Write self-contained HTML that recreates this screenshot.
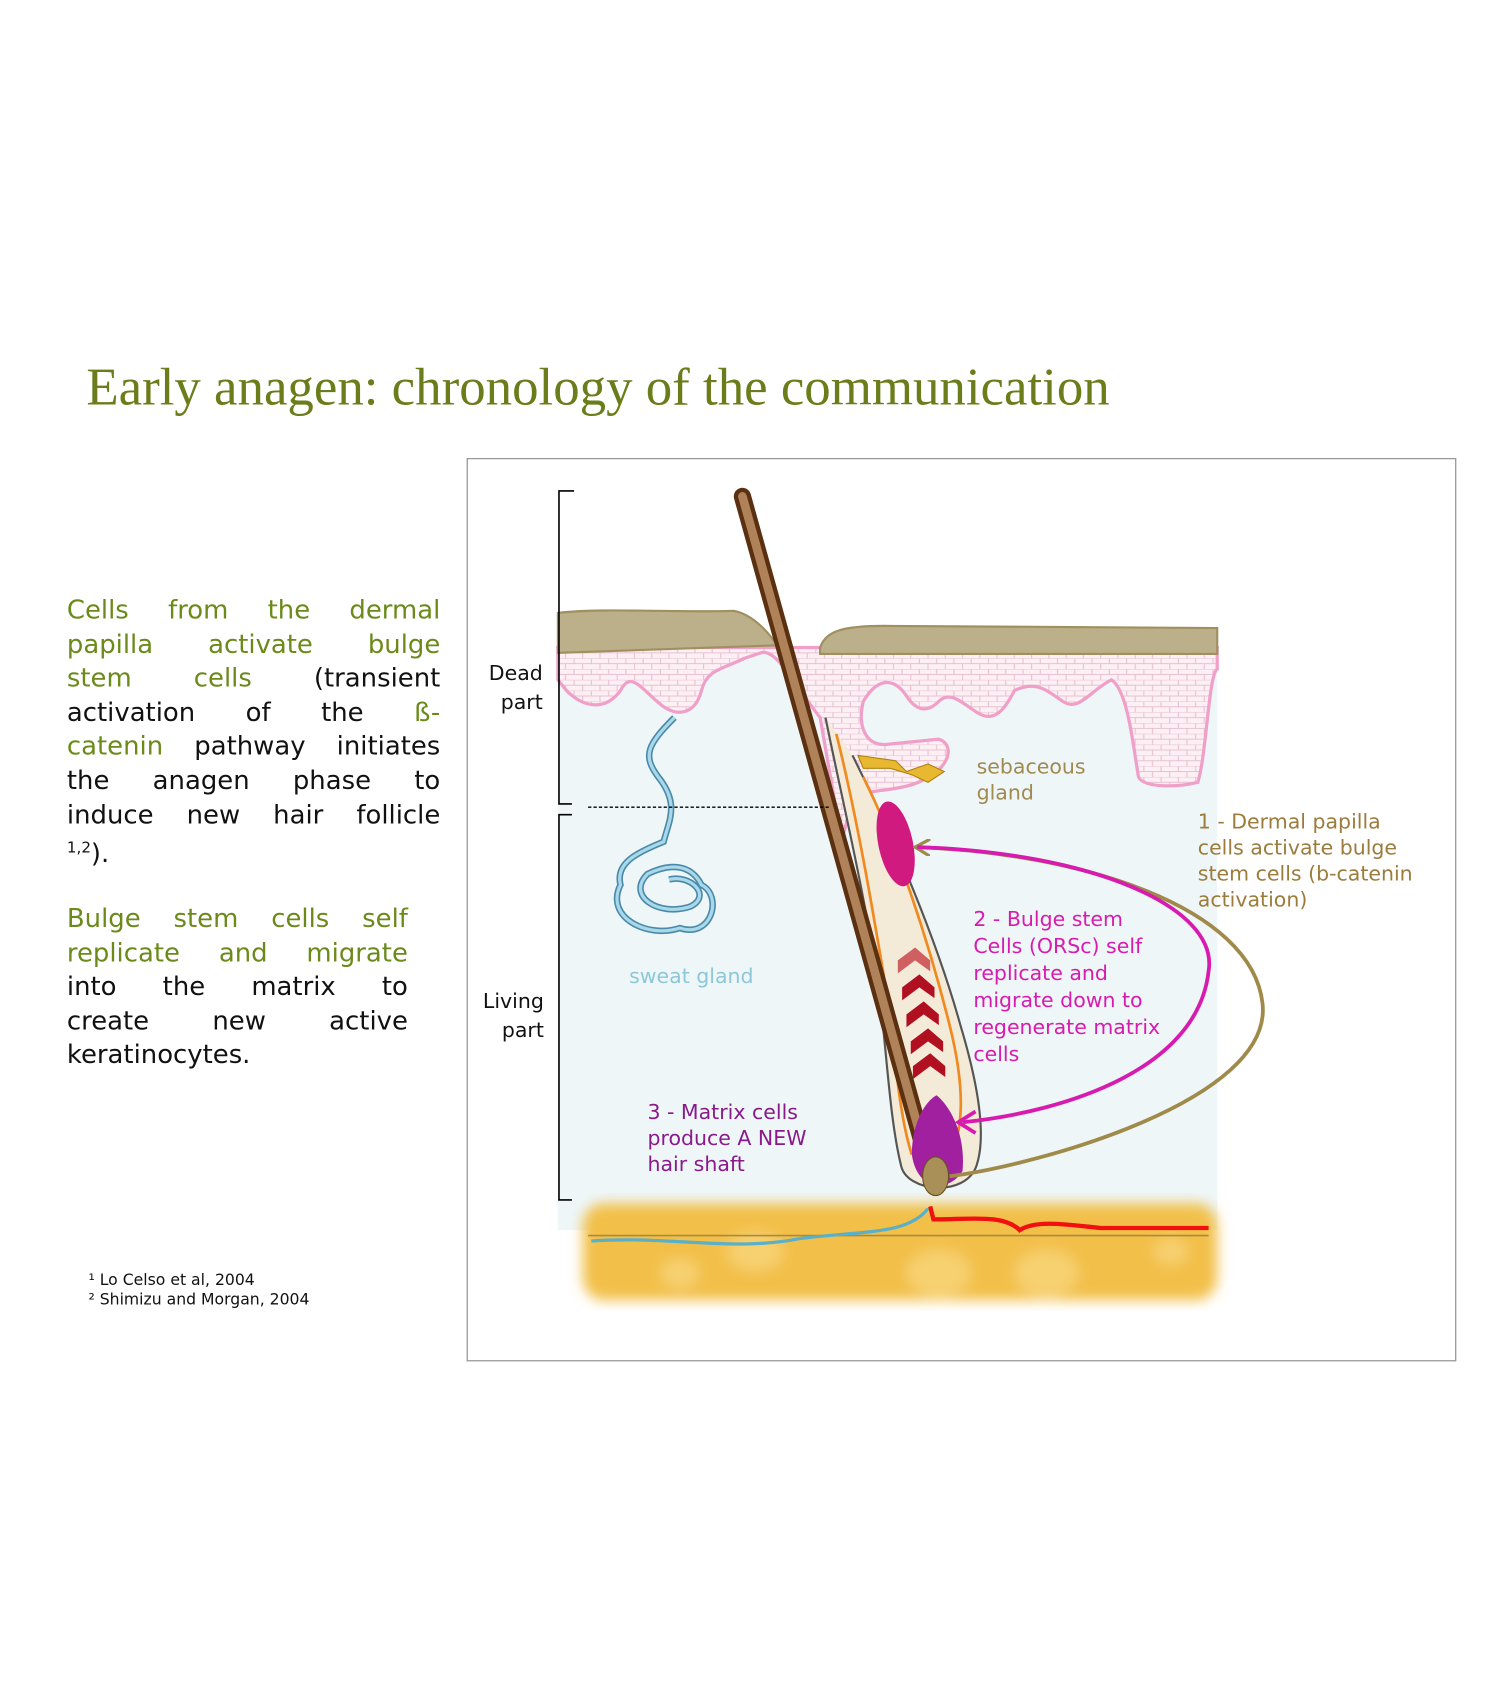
<!DOCTYPE html>
<html><head><meta charset="utf-8"><style>
html,body{margin:0;padding:0;background:#fff;}
body{width:1500px;height:1686px;overflow:hidden;position:relative;}
#w{position:absolute;left:0;top:0;width:1390px;height:1562px;transform:scale(1.0791);transform-origin:0 0;font-family:"Liberation Sans","DejaVu Sans",sans-serif;}
.t{position:absolute;left:80px;top:330px;font-family:"Liberation Serif",serif;font-size:49px;color:#6b7d1a;white-space:nowrap;}
.p{position:absolute;font-family:"DejaVu Sans",sans-serif;font-size:24px;color:#111;}
.p div{height:31.6px;line-height:31.6px;text-align:justify;text-align-last:justify;white-space:nowrap;}
.p div.l{text-align-last:left;}
.g{color:#6b8a1a;}
.fn{position:absolute;left:82px;top:1178px;font-size:14.5px;line-height:18px;color:#111;font-family:"DejaVu Sans",sans-serif;}
svg{position:absolute;left:0;top:0;}
</style></head><body><div id="w">
<div class="t">Early anagen: chronology of the communication</div>
<div class="p" style="left:62px;top:550px;width:346px;">
<div><span class="g">Cells from the dermal</span></div>
<div><span class="g">papilla activate bulge</span></div>
<div><span class="g">stem cells</span> (transient</div>
<div>activation of the <span class="g">ß-</span></div>
<div><span class="g">catenin</span> pathway initiates</div>
<div>the anagen phase to</div>
<div>induce new hair follicle</div>
<div class="l"><sup style="font-size:14px">1,2</sup>).</div>
</div>
<div class="p" style="left:62px;top:836px;width:316px;">
<div><span class="g">Bulge stem cells self</span></div>
<div><span class="g">replicate and migrate</span></div>
<div>into the matrix to</div>
<div>create new active</div>
<div class="l">keratinocytes.</div>
</div>
<div class="fn">¹ Lo Celso et al, 2004<br>² Shimizu and Morgan, 2004</div>
<svg width="1390" height="1562" viewBox="0 0 1390 1562">
<defs>
<filter id="bl"><feGaussianBlur stdDeviation="6"/></filter>
<marker id="am" markerWidth="10" markerHeight="10" refX="8" refY="5" orient="auto" markerUnits="userSpaceOnUse"><path d="M0,0 L9,5 L0,10" fill="none" stroke="#d81bb0" stroke-width="3"/></marker>
<marker id="ao" markerWidth="16" markerHeight="16" refX="14" refY="8" orient="auto" markerUnits="userSpaceOnUse"><path d="M0,0 L14,8 L0,16" fill="none" stroke="#a08a4a" stroke-width="3"/></marker>
<pattern id="br" width="16" height="10" patternUnits="userSpaceOnUse"><rect width="16" height="10" fill="#fcf0f4"/><path d="M0,0H16M0,5H16M4,0V5M12,5V10" stroke="#e8c0d0" stroke-width="1"/></pattern>
</defs>
<rect x="433" y="425" width="916" height="836" fill="#fff" stroke="#999" stroke-width="1.2"/>
<rect x="517" y="600" width="611" height="540" fill="#eef6f8"/>
<g filter="url(#bl)">
<rect x="540" y="1115" width="588" height="90" rx="20" fill="#f2c04a"/>
<ellipse cx="870" cy="1180" rx="30" ry="22" fill="#f7d070"/>
<ellipse cx="970" cy="1180" rx="30" ry="22" fill="#f7d070"/>
<ellipse cx="700" cy="1160" rx="26" ry="18" fill="#f7d070"/>
<ellipse cx="630" cy="1180" rx="18" ry="14" fill="#f7d070"/>
<ellipse cx="1085" cy="1160" rx="16" ry="12" fill="#f7d070"/>
</g>
<line x1="545" y1="1145" x2="1120" y2="1145" stroke="#a88a40" stroke-width="1.5"/>
<path d="M517,600 H1128 V620 C1120,625 1118,700 1110,725 C1090,730 1060,730 1055,720 C1050,690 1045,640 1030,630 C1010,640 1000,660 985,650 C970,640 960,630 940,640 C930,660 920,670 905,660 C890,650 880,640 870,650 C860,660 850,660 840,645 C830,630 815,625 800,650 C795,670 800,690 820,690 L870,685 C885,690 880,710 860,720 C840,735 800,730 790,740 L780,780 L760,665 C740,640 720,600 705,605 L690,610 C670,620 655,620 650,640 C645,660 630,665 615,655 C595,640 585,620 575,640 C560,660 540,655 525,640 L517,630 Z" fill="url(#br)" stroke="#f0a0c8" stroke-width="3"/>
<path d="M517,568 C560,563 620,568 680,566 C700,570 715,590 720,598 L517,605 Z" fill="#bcb08a" stroke="#a09060" stroke-width="2"/>
<path d="M760,600 C765,585 780,580 820,580 L1128,582 V606 L760,606 Z" fill="#bcb08a" stroke="#a09060" stroke-width="2"/>
<path d="M625,665 C600,690 595,700 610,720 C630,745 620,760 615,780 C590,790 570,800 575,820 C560,850 600,870 630,860 C660,870 670,830 650,820 C640,800 620,800 600,810 C580,830 610,850 640,840 C660,830 640,810 620,815" fill="none" stroke="#4a8aa8" stroke-width="6"/>
<path d="M625,665 C600,690 595,700 610,720 C630,745 620,760 615,780 C590,790 570,800 575,820 C560,850 600,870 630,860 C660,870 670,830 650,820 C640,800 620,800 600,810 C580,830 610,850 640,840 C660,830 640,810 620,815" fill="none" stroke="#a8d8ea" stroke-width="3"/>
<path d="M765,665 C780,740 800,820 815,920 C822,980 825,1040 835,1080 C840,1105 895,1110 905,1080 C915,1050 905,1000 890,950 C865,860 820,760 790,700" fill="#f4ead8" stroke="#555" stroke-width="2"/>
<path d="M775,680 C795,760 810,850 825,940 C830,990 835,1040 845,1070 M885,1060 C895,1030 890,990 880,950 C860,870 830,780 800,720" fill="none" stroke="#f08a20" stroke-width="2.5"/>
<path d="M795,700 L830,705 L840,715 L860,708 L875,715 L860,725 L845,718 L825,712 L800,712 Z" fill="#e8b830" stroke="#b08010" stroke-width="1"/>
<line x1="688" y1="460" x2="862" y2="1085" stroke="#5a3010" stroke-width="16" stroke-linecap="round"/>
<line x1="688" y1="460" x2="862" y2="1085" stroke="#b0825a" stroke-width="8" stroke-linecap="round"/>
<g fill="#b01020">
<path d="M832,890 L848,878 L862,890 L862,900 L848,890 L832,902 Z" fill="#d06060"/>
<path d="M836,915 L852,903 L866,915 L866,925 L852,915 L836,927 Z"/>
<path d="M840,940 L856,928 L870,940 L870,950 L856,940 L840,952 Z"/>
<path d="M844,965 L860,953 L874,965 L874,975 L860,965 L844,977 Z"/>
<path d="M846,988 L862,976 L876,988 L876,998 L862,988 L846,1000 Z"/>
</g>
<ellipse cx="830" cy="782" rx="16" ry="40" fill="#d01a80" transform="rotate(-12 830 782)"/>
<path d="M845,1070 C845,1040 858,1020 868,1015 C880,1025 895,1050 892,1085 C880,1105 850,1105 845,1070 Z" fill="#a020a0"/>
<ellipse cx="867" cy="1090" rx="12" ry="18" fill="#a89058" stroke="#6a5020"/>
<path d="M548,1150 C620,1145 680,1160 740,1148 C800,1140 840,1145 860,1120" fill="none" stroke="#5ab0c8" stroke-width="3"/>
<path d="M862,1118 L865,1130 C900,1130 930,1125 945,1140 C960,1130 990,1135 1020,1138 L1120,1138" fill="none" stroke="#f01010" stroke-width="4"/>
<line x1="545" y1="748" x2="768" y2="748" stroke="#000" stroke-width="1.2" stroke-dasharray="3,2"/>
<path d="M532,455 H518 V745 H530" fill="none" stroke="#000" stroke-width="1.5"/>
<path d="M530,755 H518 V1112 H530" fill="none" stroke="#000" stroke-width="1.5"/>
<path d="M880,1090 C960,1080 1180,1020 1170,930 C1160,840 1000,790 848,785" fill="none" stroke="#a08a4a" stroke-width="3.5" marker-end="url(#ao)"/>
<path d="M850,785 C1010,790 1130,840 1120,900 C1110,990 990,1030 892,1040" fill="none" stroke="#d81bb0" stroke-width="3.5"/>
<path d="M904,1030 L888,1040 L904,1050" fill="none" stroke="#d81bb0" stroke-width="3.5"/>
<g font-family="DejaVu Sans, sans-serif" font-size="19">
<text x="503" y="630" text-anchor="end" fill="#111">Dead</text>
<text x="503" y="657" text-anchor="end" fill="#111">part</text>
<text x="504" y="934" text-anchor="end" fill="#111">Living</text>
<text x="504" y="961" text-anchor="end" fill="#111">part</text>
<text x="905" y="717" fill="#a08a50">sebaceous</text>
<text x="905" y="741" fill="#a08a50">gland</text>
<text x="583" y="911" fill="#8cc8d8">sweat gland</text>
<g fill="#9c7c3c"><text x="1110" y="768">1 - Dermal papilla</text><text x="1110" y="792">cells activate bulge</text><text x="1110" y="816">stem cells (b-catenin</text><text x="1110" y="840">activation)</text></g>
<g fill="#d81bb0"><text x="902" y="858">2 - Bulge stem</text><text x="902" y="883">Cells (ORSc) self</text><text x="902" y="908">replicate and</text><text x="902" y="933">migrate down to</text><text x="902" y="958">regenerate matrix</text><text x="902" y="983">cells</text></g>
<g fill="#8a1a8a"><text x="600" y="1037">3 - Matrix cells</text><text x="600" y="1061">produce A NEW</text><text x="600" y="1085">hair shaft</text></g>
</g>
</svg>
</div></body></html>
